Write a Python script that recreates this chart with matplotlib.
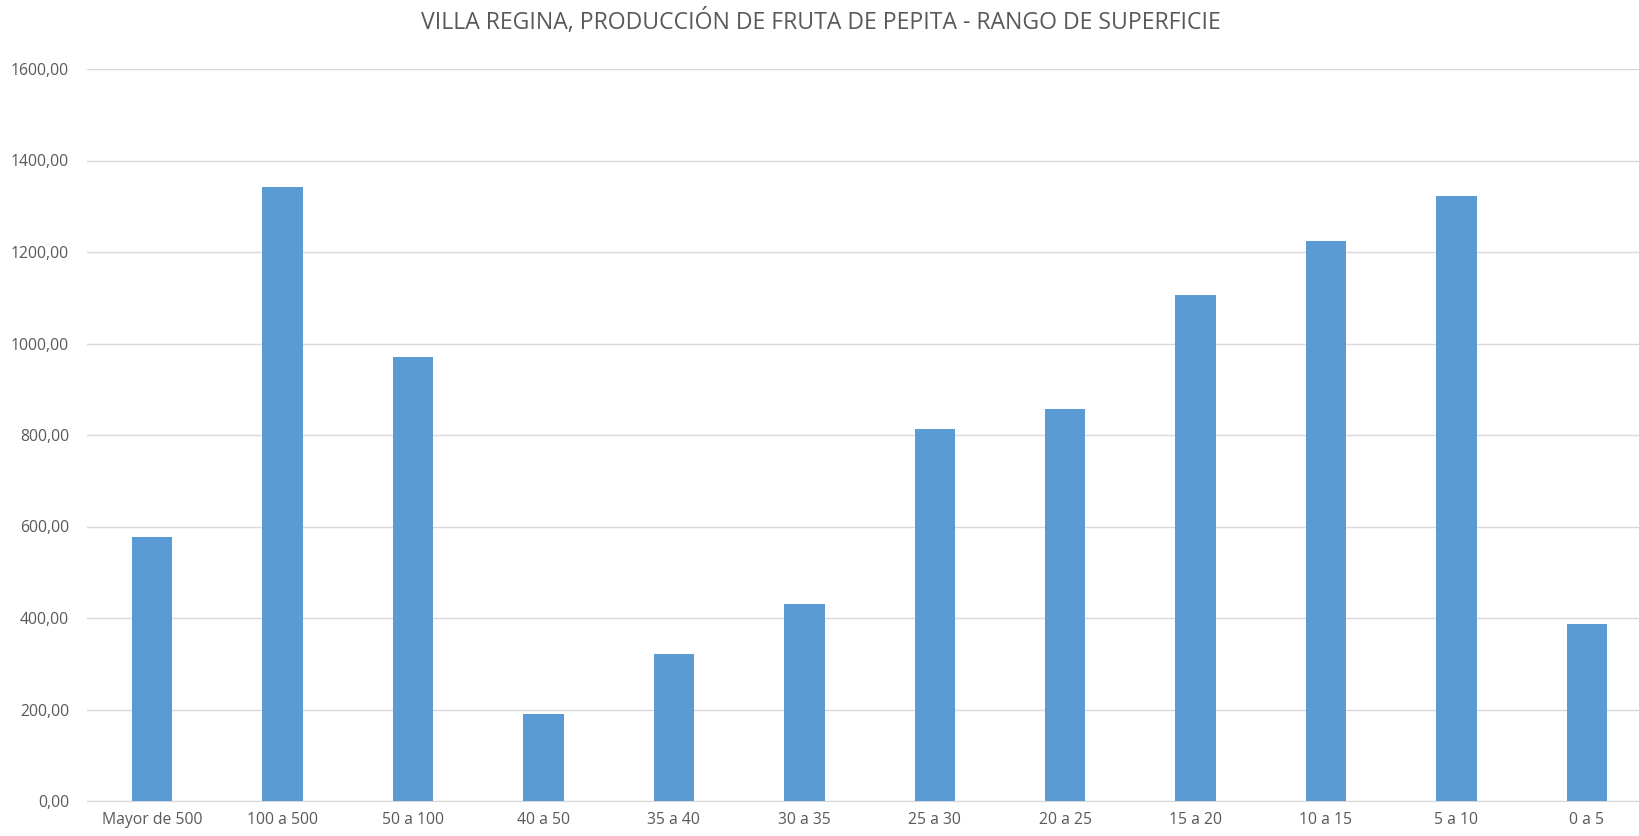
import matplotlib.pyplot as plt
from matplotlib.ticker import FuncFormatter

rangos = ["Mayor de 500", "100 a 500", "50 a 100", "40 a 50", "35 a 40", "30 a 35",
          "25 a 30", "20 a 25", "15 a 20", "10 a 15", "5 a 10", "0 a 5"]
produccion = [576, 1342, 970, 191, 321, 430, 813, 857, 1105, 1223, 1323, 387]

titulo = "VILLA REGINA, PRODUCCIÓN DE FRUTA DE PEPITA - RANGO DE SUPERFICIE"

plt.rcParams["font.family"] = ["Open Sans", "DejaVu Sans"]

fig = plt.figure(figsize=(16.39, 8.36), dpi=100)
ax = fig.add_axes([87 / 1639, 1 - 801 / 836, 1 - 87 / 1639, (801 - 69) / 836])

x = list(range(len(rangos)))
ax.bar(x, produccion, width=0.31, color="#5B9BD5", zorder=3)

ax.set_xlim(-0.5, 11.4)
ax.set_ylim(0, 1600)
ax.set_yticks(range(0, 1601, 200))
ax.yaxis.set_major_formatter(FuncFormatter(lambda v, p: f"{v:.2f}".replace(".", ",")))
ax.set_xticks(x)
ax.set_xticklabels(rangos)

ax.grid(axis="y", color="#D9D9D9", linewidth=1, zorder=0)
for s in ["top", "right", "left"]:
    ax.spines[s].set_visible(False)
ax.spines["bottom"].set_color("#D9D9D9")
ax.tick_params(axis="both", length=0, colors="#595959", labelsize=11.3)
ax.tick_params(axis="y", pad=13)
ax.tick_params(axis="x", pad=8)

fig.text(821 / 1639, 1 - 22 / 836, titulo, ha="center", va="center",
         fontsize=16.6, color="#595959")

fig.savefig("out.png", dpi=100)
